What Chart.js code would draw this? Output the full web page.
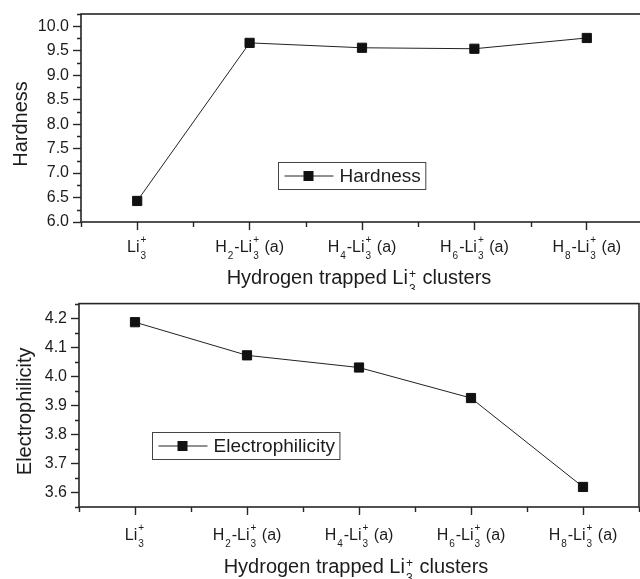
<!DOCTYPE html>
<html>
<head>
<meta charset="utf-8">
<script src="https://cdn.jsdelivr.net/npm/chart.js@4/dist/chart.umd.min.js"></script>
<style>
  html, body { margin: 0; padding: 0; background: #fff; overflow: hidden; }
  #topBox { position: absolute; left: 0; top: 0; width: 643px; height: 290px; }
  #bottomBox { position: absolute; left: 0; top: 290px; width: 640px; height: 289px; }
</style>
</head>
<body>
<div id="topBox"><canvas id="hardnessChart"></canvas></div>
<div id="bottomBox"><canvas id="electroChart"></canvas></div>
<script>
// categories use _x for subscript and ^x for superscript
const categories = ['Li_3^+', 'H_2-Li_3^+ (a)', 'H_4-Li_3^+ (a)', 'H_6-Li_3^+ (a)', 'H_8-Li_3^+ (a)'];
const hardness = [6.43, 9.66, 9.56, 9.54, 9.76];
const electrophilicity = [4.186, 4.072, 4.030, 3.925, 3.619];
const hardnessTicks = [6.0, 6.5, 7.0, 7.5, 8.0, 8.5, 9.0, 9.5, 10.0];
const electroTicks = [3.6, 3.7, 3.8, 3.9, 4.0, 4.1, 4.2];
const xTitle = 'Hydrogen trapped Li_3^+ clusters';

const FONT = "'Liberation Sans', Arial, Helvetica, sans-serif";
const INK = '#1c1c1c';

function parseRich(s) {
    const out = [];
    let buf = '';
    for (let i = 0; i < s.length; i++) {
        const c = s[i];
        if (c === '_' || c === '^') {
            if (buf) { out.push({ t: buf, k: 'n' }); buf = ''; }
            out.push({ t: s[i + 1], k: c === '_' ? 'sub' : 'sup' });
            i++;
        } else buf += c;
    }
    if (buf) out.push({ t: buf, k: 'n' });
    return out;
}

// draws text with stacked sub/superscripts, centred on cx
function drawRich(ctx, str, cx, baseY, size, supRise) {
    const small = Math.round(size * 0.6);
    const tokens = parseRich(str);
    const items = [];
    let x = 0, i = 0;
    while (i < tokens.length) {
        const tk = tokens[i];
        if (tk.k === 'n') {
            ctx.font = size + 'px ' + FONT;
            items.push({ t: tk.t, x: x, dy: 0, size: size });
            x += ctx.measureText(tk.t).width;
            i++;
        } else {
            let wmax = 0;
            while (i < tokens.length && tokens[i].k !== 'n') {
                const s = tokens[i];
                ctx.font = small + 'px ' + FONT;
                items.push({ t: s.t, x: x + 1, dy: s.k === 'sub' ? size * 0.44 : -size * supRise, size: small });
                wmax = Math.max(wmax, ctx.measureText(s.t).width);
                i++;
            }
            x += wmax + 2;
        }
    }
    const x0 = cx - x / 2;
    ctx.save();
    ctx.fillStyle = INK;
    ctx.textAlign = 'left';
    ctx.textBaseline = 'alphabetic';
    items.forEach(it => {
        ctx.font = it.size + 'px ' + FONT;
        ctx.fillText(it.t, x0 + it.x, baseY + it.dy);
    });
    ctx.restore();
}

const originPlugin = {
    id: 'originLook',
    afterDraw(chart, args, opts) {
        const ctx = chart.ctx;
        const a = chart.chartArea;
        const xs = chart.scales.x, ys = chart.scales.y;
        ctx.save();
        // frame
        ctx.strokeStyle = '#262626';
        ctx.lineWidth = 1.6;
        ctx.strokeRect(a.left, a.top, a.right - a.left, a.bottom - a.top);
        // minor ticks
        ctx.lineWidth = 1.4;
        ctx.beginPath();
        const maj = opts.majors;
        const half = (maj[1] - maj[0]) / 2;
        for (let k = -1; k < maj.length; k++) {
            const v = (k < 0 ? maj[0] : maj[k]) + (k < 0 ? -half : half);
            if (v < ys.min - 1e-9 || v > ys.max + 1e-9) continue;
            const py = Math.round(ys.getPixelForValue(v)) + 0.5;
            ctx.moveTo(a.left - 4, py); ctx.lineTo(a.left, py);
        }
        for (let v = -0.5; v <= categories.length - 0.5; v += 1) {
            const px = Math.round(xs.getPixelForValue(v)) + 0.5;
            ctx.moveTo(px, a.bottom); ctx.lineTo(px, a.bottom + 5);
        }
        ctx.stroke();
        ctx.restore();

        // category labels and axis titles
        xs.ticks.forEach((t, i) => {
            drawRich(ctx, categories[i], xs.getPixelForTick(i), a.bottom + opts.labelGap, 16, 0.56);
        });
        drawRich(ctx, xTitle, (a.left + a.right) / 2 - 3, a.bottom + opts.titleGap, 20, 0.3);

        const ds = chart.data.datasets[0];
        ctx.save();
        ctx.translate(opts.yTitleBase, (a.top + a.bottom) / 2 + 6);
        ctx.rotate(-Math.PI / 2);
        ctx.font = '20px ' + FONT;
        ctx.fillStyle = INK;
        ctx.textAlign = 'center';
        ctx.textBaseline = 'alphabetic';
        ctx.fillText(ds.label, 0, 0);
        ctx.restore();

        // legend box inside plot
        ctx.save();
        ctx.font = '19px ' + FONT;
        const tw = ctx.measureText(ds.label).width;
        const bx = Math.round(a.left + opts.legendAt[0] * (a.right - a.left)) + 0.5;
        const by = Math.round(a.top + opts.legendAt[1] * (a.bottom - a.top)) + 0.5;
        const bw = 61 + tw + 5, bh = 27;
        ctx.fillStyle = '#fff';
        ctx.fillRect(bx, by, bw, bh);
        ctx.strokeStyle = '#444';
        ctx.lineWidth = 1;
        ctx.strokeRect(bx, by, bw, bh);
        const my = by + bh / 2;
        ctx.strokeStyle = ds.borderColor;
        ctx.beginPath(); ctx.moveTo(bx + 6, my); ctx.lineTo(bx + 55, my); ctx.stroke();
        ctx.fillStyle = ds.pointBackgroundColor;
        ctx.fillRect(bx + 25, my - 5, 10, 10);
        ctx.fillStyle = INK;
        ctx.textBaseline = 'middle';
        ctx.fillText(ds.label, bx + 61, my + 1);
        ctx.restore();
    }
};

function makeChart(id, label, values, yMin, yMax, majors, cfg) {
    const ctx = document.getElementById(id).getContext('2d');
    return new Chart(ctx, {
        type: 'line',
        data: {
            labels: categories,
            datasets: [{
                label: label,
                data: values,
                borderColor: '#222',
                borderWidth: 1,
                tension: 0,
                pointStyle: 'rect',
                pointRadius: 6.5,
                pointBackgroundColor: '#111',
                pointBorderColor: '#111',
                pointBorderWidth: 1
            }]
        },
        options: {
            responsive: true,
            maintainAspectRatio: false,
            animation: false,
            layout: { autoPadding: false, padding: { top: cfg.padTop, right: cfg.padRight, left: 0, bottom: 0 } },
            plugins: {
                legend: { display: false },
                tooltip: { enabled: false },
                originLook: {
                    majors: majors, labelGap: cfg.labelGap, titleGap: cfg.titleGap,
                    legendAt: cfg.legendAt, yTitleBase: cfg.yTitleBase
                }
            },
            scales: {
                x: {
                    type: 'category',
                    offset: true,
                    grid: { offset: false, drawOnChartArea: false, tickLength: 8, tickColor: '#262626', tickWidth: 1.4 },
                    border: { display: false },
                    ticks: { display: false },
                    afterFit: s => { s.height = cfg.xHeight; }
                },
                y: {
                    min: yMin,
                    max: yMax,
                    afterBuildTicks: s => { s.ticks = majors.map(v => ({ value: v })); },
                    grid: { drawOnChartArea: false, tickLength: 8, tickColor: '#262626', tickWidth: 1.4 },
                    border: { display: false },
                    ticks: {
                        padding: 4,
                        color: INK,
                        font: { family: FONT, size: 16 },
                        callback: v => Number(v).toFixed(1)
                    },
                    afterFit: s => { s.width = cfg.yWidth; }
                }
            }
        },
        plugins: [originPlugin]
    });
}

makeChart('hardnessChart', 'Hardness', hardness, 6.0, 10.25, hardnessTicks, {
    padTop: 14, padRight: 0, xHeight: 68, yWidth: 81, yTitleBase: 27,
    labelGap: 30, titleGap: 62, legendAt: [0.35, 0.71]
});
makeChart('electroChart', 'Electrophilicity', electrophilicity, 3.55, 4.25, electroTicks, {
    padTop: 8, padRight: 1, xHeight: 72, yWidth: 79, yTitleBase: 31,
    labelGap: 33, titleGap: 66, legendAt: [0.131, 0.63]
});
</script>
</body>
</html>
